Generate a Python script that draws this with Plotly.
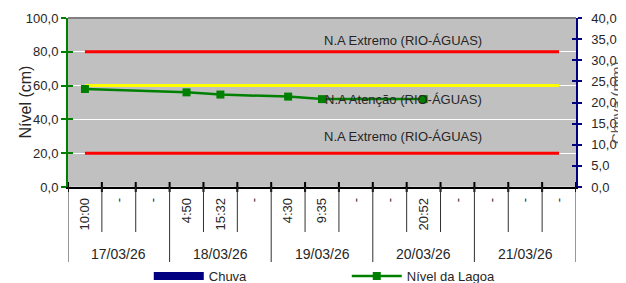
import plotly.graph_objects as go

# ---- data ----
times = ["10:00", "-", "-", "4:50", "15:32", "-", "4:30", "9:35", "-", "-",
         "20:52", "-", "-", "-", "-"]
dates = ["17/03/26", "18/03/26", "19/03/26", "20/03/26", "21/03/26"]
nivel = [58, None, None, 56, 54.7, None, 53.5, 52, None, None, 52, None, None, None, None]
chuva = [0, 0, 0, 0, 0, 0, 0, 0, 0, 0, 0, 0, 0, 0, 0]
extremo_sup = [80] * 15
atencao = [60] * 15
extremo_inf = [20] * 15
label_extremo = "N.A Extremo (RIO-ÁGUAS)"
label_atencao = "N.A Atenção (RIO-ÁGUAS)"

FONT = "Liberation Sans"
TXT = "#262626"
GREEN = "#008000"
NAVY = "#000080"

x = list(range(len(times)))

fig = go.Figure()

# rainfall bars on secondary axis
fig.add_trace(go.Bar(x=x, y=chuva, yaxis="y2", marker_color=NAVY, name="Chuva",
                     showlegend=False))
# legend proxy for the wide rectangular swatch
fig.add_trace(go.Scatter(x=[None], y=[None], mode="lines", yaxis="y2",
                         line=dict(color=NAVY, width=8), name="Chuva"))

# thresholds
for vals, col in [(extremo_sup, "#FF0000"), (atencao, "#FFFF00"), (extremo_inf, "#FF0000")]:
    fig.add_trace(go.Scatter(x=x, y=vals, mode="lines", line=dict(color=col, width=3),
                             showlegend=False, hoverinfo="skip"))

# level series
fig.add_trace(go.Scatter(x=x, y=nivel, mode="lines+markers", connectgaps=True,
                         line=dict(color=GREEN, width=2.5),
                         marker=dict(symbol="square", size=8, color=GREEN),
                         name="Nível da Lagoa"))

# dummy traces for overlay axes (cross ticks)
fig.add_trace(go.Scatter(x=[None], y=[None], yaxis="y3", showlegend=False))
fig.add_trace(go.Scatter(x=[None], y=[None], yaxis="y4", showlegend=False))

shapes = []
n = len(times)
ph = 169.0
for k in range(n + 1):
    xb = k - 0.5
    # cross tick
    shapes.append(dict(type="line", xref="x", yref="paper", x0=xb, x1=xb,
                       y0=5 / ph, y1=-5 / ph, line=dict(color="black", width=2)))
    long = (k % 3 == 0)
    shapes.append(dict(type="line", xref="x", yref="paper", x0=xb, x1=xb,
                       y0=0, y1=-(75 if long else 45) / ph,
                       line=dict(color="#303030", width=1)))
# top border of plot area
shapes.append(dict(type="line", xref="paper", yref="paper", x0=0, x1=1, y0=1, y1=1,
                   line=dict(color="#808080", width=2)))

annotations = []
for i, d in enumerate(dates):
    annotations.append(dict(x=i * 3 + 1, y=-67 / ph, xref="x", yref="paper", text=d,
                            showarrow=False, yanchor="middle",
                            font=dict(family=FONT, size=14, color=TXT)))
for txt, yv in [(label_extremo, 86.6), (label_atencao, 51.9), (label_extremo, 29.8)]:
    annotations.append(dict(x=9.4, y=yv, xref="x", yref="y", text=txt, showarrow=False,
                            yanchor="middle", font=dict(family=FONT, size=13, color=TXT)))
annotations.append(dict(x=0, xref="paper", xshift=-53.5, y=0.5, yref="paper",
                        text="Nível (cm)", textangle=-90, showarrow=False,
                        font=dict(family=FONT, size=16, color=TXT)))
annotations.append(dict(x=1, xref="paper", xshift=51, y=0.5, yref="paper",
                        text="Chuva (mm)", textangle=-90, showarrow=False,
                        font=dict(family=FONT, size=15, color="#595959")))

# page body adds an 8px offset, so the figure is sized to fit the 626x283 window
fig.update_layout(
    width=618, height=275,
    margin=dict(l=60, r=50, t=10, b=96, autoexpand=False),
    plot_bgcolor="#C0C0C0", paper_bgcolor="white",
    separators=",.",
    font=dict(family=FONT, size=13, color=TXT),
    xaxis=dict(range=[-0.5, n - 0.5], tickmode="array", tickvals=x, ticktext=times,
               tickangle=-90, ticks="", showgrid=False, zeroline=False, automargin=False,
               showline=True, linecolor="black", linewidth=1.5, ticklabelstandoff=4,
               tickfont=dict(family=FONT, size=13, color=TXT)),
    yaxis=dict(range=[0, 100], tickmode="array", tickvals=[0, 20, 40, 60, 80, 100],
               tickformat=".1f", showgrid=True, gridcolor="white", gridwidth=1,
               zeroline=False, showline=True, linecolor=GREEN, linewidth=2, automargin=False,
               ticks="outside", ticklen=5, tickwidth=1.5, tickcolor=GREEN,
               tickfont=dict(family=FONT, size=13, color=TXT)),
    yaxis3=dict(range=[0, 100], overlaying="y", side="left", anchor="x", automargin=False,
                tickmode="array", tickvals=[0, 20, 40, 60, 80, 100],
                ticks="inside", ticklen=5, tickwidth=1.5, tickcolor=GREEN,
                showticklabels=False, showgrid=False, zeroline=False, showline=False),
    yaxis2=dict(range=[0, 40], overlaying="y", side="right", anchor="x", automargin=False,
                tickmode="array", tickvals=[0, 5, 10, 15, 20, 25, 30, 35, 40],
                tickformat=".1f", showgrid=False, zeroline=False, ticklabelstandoff=7,
                showline=True, linecolor=NAVY, linewidth=1.5,
                ticks="outside", ticklen=4, tickwidth=1.5, tickcolor=NAVY,
                tickfont=dict(family=FONT, size=13, color=TXT)),
    yaxis4=dict(range=[0, 40], overlaying="y", side="right", anchor="x", automargin=False,
                tickmode="array", tickvals=[0, 5, 10, 15, 20, 25, 30, 35, 40],
                ticks="inside", ticklen=4, tickwidth=1.5, tickcolor=NAVY,
                showticklabels=False, showgrid=False, zeroline=False, showline=False),
    shapes=shapes,
    annotations=annotations,
    legend=dict(orientation="h", x=0.159, xanchor="left", y=-89 / ph, yanchor="middle",
                itemwidth=50, entrywidth=133, font=dict(family=FONT, size=13, color=TXT),
                bgcolor="rgba(0,0,0,0)"),
    showlegend=True,
)

fig.write_html("out.html")
